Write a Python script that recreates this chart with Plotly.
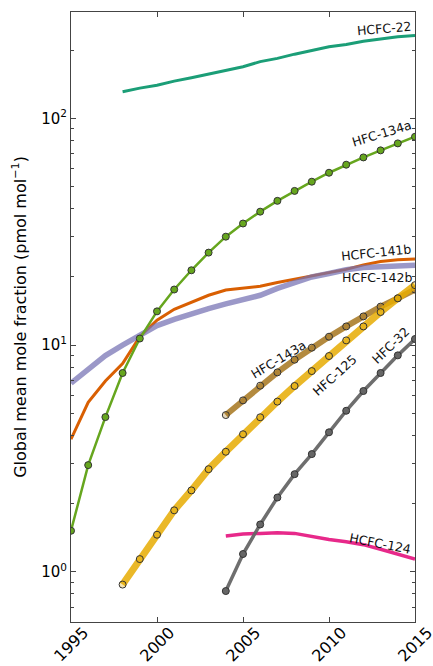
import plotly.graph_objects as go
import numpy as np

years_all = list(range(1995, 2016))
years_1998 = list(range(1998, 2016))
years_2004 = list(range(2004, 2016))

hcfc22 = [131, 136, 140, 146, 151, 157, 163, 169, 178, 184, 192, 200, 207, 212, 219, 224, 229, 232]
hcfc141b = [3.85, 5.6, 6.95, 8.3, 10.9, 12.9, 14.4, 15.5, 16.6, 17.5, 17.8, 18.2, 18.9, 19.5, 20.2, 20.9, 21.6, 22.6, 23.4, 23.8, 24.0]
hcfc142b = [6.8, 7.8, 9.0, 10.0, 11.1, 12.2, 13.0, 13.8, 14.5, 15.2, 15.8, 16.6, 17.8, 19.0, 20.0, 20.7, 21.5, 22.0, 22.2, 22.4, 22.5]
hfc134a = [1.52, 2.96, 4.82, 7.54, 10.7, 14.1, 17.6, 21.4, 25.6, 30.1, 34.4, 38.8, 43.3, 47.9, 52.6, 57.6, 62.5, 67.3, 72.3, 77.6, 83.0]
hfc125 = [0.88, 1.14, 1.46, 1.87, 2.29, 2.84, 3.39, 4.05, 4.81, 5.64, 6.61, 7.69, 8.96, 10.5, 12.1, 14.0, 16.1, 18.4]
hfc143a = [4.92, 5.71, 6.63, 7.59, 8.63, 9.75, 10.9, 12.1, 13.4, 14.8, 16.1, 17.6]
hfc32 = [0.824, 1.20, 1.62, 2.13, 2.70, 3.31, 4.13, 5.14, 6.28, 7.54, 9.02, 10.65]
hcfc124 = [1.44, 1.47, 1.48, 1.49, 1.48, 1.43, 1.39, 1.36, 1.32, 1.26, 1.20, 1.14]

x_ticks = [1995, 2000, 2005, 2010, 2015]
x_tick_labels = ["1995", "2000", "2005", "2010", "2015"]

# label positions (year, value) and angles
labels = [
    ("HCFC-22", 2013.2, 249, -5),
    ("HFC-134a", 2013.05, 86, -17),
    ("HCFC-141b", 2012.75, 25.7, -6),
    ("HCFC-142b", 2012.78, 19.9, 0),
    ("HFC-143a", 2007.06, 8.61, -31),
    ("HFC-125", 2010.32, 7.35, -42),
    ("HFC-32", 2013.59, 9.95, -44),
    ("HCFC-124", 2012.97, 1.34, 11),
]

fig = go.Figure()

def add(x, y, color, width, marker=None):
    kw = dict(x=x, y=y, mode="lines", line=dict(color=color, width=width), showlegend=False, hoverinfo="skip")
    if marker is not None:
        kw["mode"] = "lines+markers"
        kw["marker"] = marker
    fig.add_trace(go.Scatter(**kw))

add(years_1998, hcfc22, "#1b9e77", 3)
add(years_all, hcfc141b, "#d95f02", 3)
add(years_all, hcfc142b, "rgba(117,112,179,0.72)", 5.5)
add(years_2004, hcfc124, "#e7298a", 3.5)
add(years_2004, hfc143a, "rgba(166,118,29,0.85)", 6,
    dict(symbol="circle", size=7, color="rgba(166,118,29,0.3)", line=dict(color="#333333", width=1)))
add(years_1998, hfc125, "rgba(230,171,2,0.85)", 7,
    dict(symbol="circle", size=7, color="rgba(230,171,2,0.3)", line=dict(color="#333333", width=1)))
add(years_2004, hfc32, "rgba(102,102,102,0.95)", 3.5,
    dict(symbol="circle", size=7, color="#666666", line=dict(color="#333333", width=1)))
add(years_all, hfc134a, "#66a61e", 2.5,
    dict(symbol="circle", size=7, color="#66a61e", line=dict(color="#333333", width=1)))

for text, x, y, ang in labels:
    fig.add_annotation(x=x, y=np.log10(y), text=text, showarrow=False, textangle=ang,
                       font=dict(family="DejaVu Sans", size=12.5, color="#111111"))

# rotated x tick labels, centred under their ticks
for xv, txt in zip(x_ticks, x_tick_labels):
    fig.add_annotation(x=xv, xref="x", y=-0.037, yref="paper", text=txt, showarrow=False,
                       textangle=-45, xanchor="center", yanchor="middle",
                       font=dict(family="DejaVu Sans", size=16, color="black"))

minor_vals = [m * 10 ** e for e in (-1, 0, 1, 2) for m in range(2, 10) if 0.6 <= m * 10 ** e <= 300]

fig.update_layout(
    width=433, height=666,
    margin=dict(l=71, r=18, t=12, b=44),
    plot_bgcolor="white", paper_bgcolor="white",
    font=dict(family="DejaVu Sans", color="black"),
    xaxis=dict(range=[1995, 2015], tickvals=x_ticks, showticklabels=False, automargin=False,
               ticks="inside", ticklen=5, tickcolor="#444444",
               showline=True, linecolor="#444444", linewidth=1, mirror="allticks",
               showgrid=False, zeroline=False),
    yaxis=dict(type="log", range=[-0.2205, 2.4692], automargin=False,
               tickvals=[1, 10, 100],
               ticktext=["10<sup>0</sup>", "10<sup>1</sup>", "10<sup>2</sup>"],
               ticks="inside", ticklen=5, tickcolor="#444444",
               showline=True, linecolor="#444444", linewidth=1, mirror="allticks",
               showgrid=False, zeroline=False, tickfont=dict(size=15),
               minor=dict(tickmode="array", tickvals=minor_vals, ticks="inside", ticklen=3,
                          tickcolor="#444444", showgrid=False),
               title=dict(text="Global mean mole fraction (pmol mol<sup>−1</sup>)",
                          font=dict(size=16), standoff=10)),
)

fig.write_html("out.html")
